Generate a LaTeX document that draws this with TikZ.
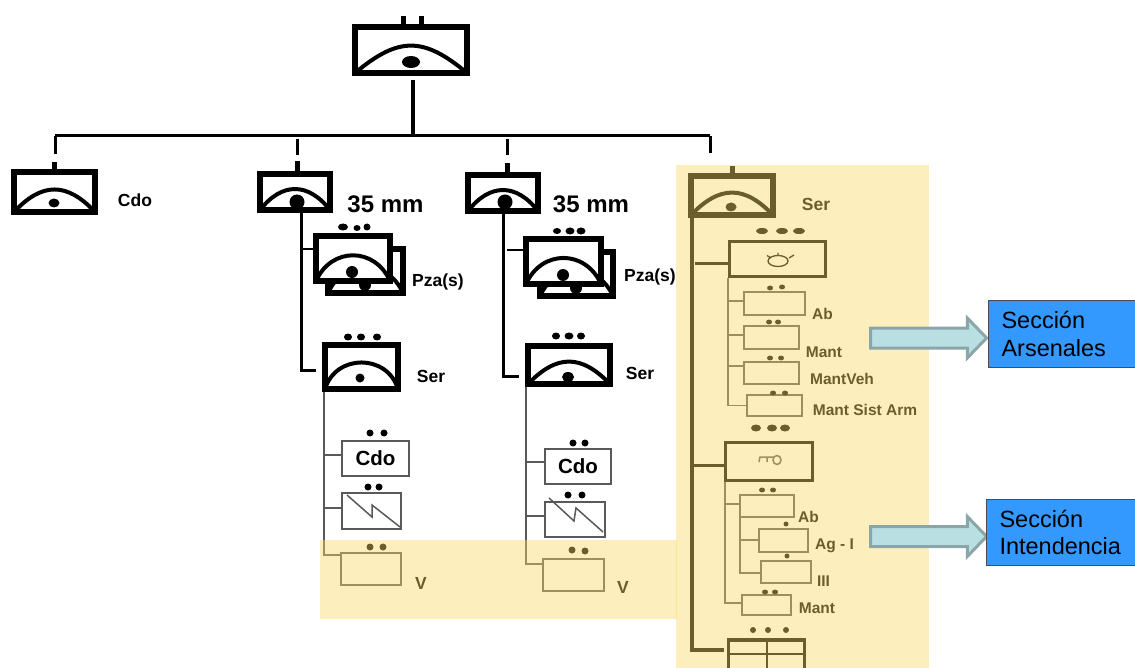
\documentclass[tikz,border=0pt]{standalone}
\usepackage{fontspec}
\setmainfont{Liberation Sans}
\usetikzlibrary{shapes.arrows}
\definecolor{crema}{rgb}{0.98,0.85,0.40}
\definecolor{azulsec}{HTML}{3399FF}
\definecolor{aguaflecha}{HTML}{B9DFE3}
\definecolor{bordeflecha}{HTML}{8AA6A8}
\tikzset{unidad/.style={rectangle, draw=black, fill=white, line width=6, inner sep=0, outer sep=0,
    path picture={\draw[line width=4] (path picture bounding box.south west) to[out=#1, in={180-#1}, looseness=1.3] (path picture bounding box.south east);}}}
\tikzstyle{caja} = [rectangle, draw=black!65, fill=white, line width=1.5, inner sep=0, outer sep=0]
\tikzstyle{cajagrande} = [rectangle, draw=black, fill=white, line width=3.5, inner sep=0, outer sep=0]
\tikzstyle{rotulo} = [inner sep=0, font=\fontsize{17.5}{20}\selectfont\bfseries]
\tikzstyle{rotulochico} = [inner sep=0, font=\fontsize{15.5}{18}\selectfont\bfseries]
\tikzstyle{calibre} = [inner sep=0, font=\fontsize{24}{26}\selectfont\bfseries]
\tikzstyle{seccion} = [rectangle, draw=black!70, fill=azulsec, line width=1, align=left, text width=125, inner xsep=13, inner ysep=0, minimum height=66, font=\fontsize{23.5}{27.5}\selectfont]
\tikzstyle{flecha} = [single arrow, draw=bordeflecha, fill=aguaflecha, line width=3, inner xsep=0, inner ysep=8.5, minimum height=116, minimum width=37, single arrow head extend=10, single arrow tip angle=92]
\tikzstyle{linea} = [line width=3]
\tikzstyle{espiga} = [line width=5]
\tikzstyle{fino} = [line width=1.5, draw=black!65]

\begin{document}
\begin{tikzpicture}[x=1pt, y=-1pt]
    \useasboundingbox (0,0) rectangle (1135,668);
    \clip (0,0) rectangle (1135,668);

    % Unidades
    \node (raiz) [unidad=40, minimum width=112, minimum height=46] at (411,50) {};
    \node (cdo) [unidad=47, minimum width=81, minimum height=40] at (54.5,192) {};
    \node (cia1) [unidad=52, minimum width=70, minimum height=36] at (295,192) {};
    \node (cia2) [unidad=52, minimum width=70, minimum height=36] at (503,193) {};
    \node (ser1) [unidad=73, minimum width=73, minimum height=44] at (361.5,367) {};
    \node (ser2) [unidad=46, minimum width=82, minimum height=38] at (569,365) {};
    \node (serC) [unidad=46, minimum width=82, minimum height=39] at (732,195.5) {};

    % Piezas
    \node (pzaB1) [unidad=66, minimum width=75, minimum height=44] at (365.5,271) {};
    \fill (365,285) circle (6);
    \node (pza1) [unidad=66, minimum width=74, minimum height=45] at (353,258.5) {};
    \node (pzaB2) [unidad=66, minimum width=73, minimum height=44] at (576.5,274) {};
    \fill (576,288) circle (6);
    \node (pza2) [unidad=66, minimum width=75, minimum height=45] at (563.5,261.5) {};

    % Cajas de las dos columnas
    \node (cdoA) [caja, minimum width=67, minimum height=35, font=\fontsize{20.5}{24}\selectfont\bfseries] at (375.5,458.5) {Cdo};
    \node (zigA) [caja, minimum width=59, minimum height=36] at (371.5,511) {};
    \node (vA) [caja, minimum width=60, minimum height=32] at (371,569) {};
    \node (cdoB) [caja, minimum width=66, minimum height=35, font=\fontsize{20.5}{24}\selectfont\bfseries] at (578,466.5) {Cdo};
    \node (zigB) [caja, minimum width=60, minimum height=35] at (575,519.5) {};
    \node (vB) [caja, minimum width=61, minimum height=32] at (573.5,575) {};

    % Cajas de servicios
    \node (boxA) [cajagrande, minimum width=96, minimum height=35] at (777.5,259) {};
    \node (abA) [caja, minimum width=61, minimum height=23] at (774.5,303.5) {};
    \node (mantA) [caja, minimum width=55, minimum height=23] at (771.5,337.5) {};
    \node (vehA) [caja, minimum width=55, minimum height=22] at (771.5,373) {};
    \node (sistA) [caja, minimum width=55, minimum height=21] at (774.5,405.5) {};
    \node (boxB) [cajagrande, minimum width=87, minimum height=38] at (769,461.5) {};
    \node (abB) [caja, minimum width=54, minimum height=22] at (767,506) {};
    \node (agB) [caja, minimum width=49, minimum height=23] at (783.5,540.5) {};
    \node (iiiB) [caja, minimum width=50, minimum height=22] at (786,572) {};
    \node (mantB) [caja, minimum width=49, minimum height=20] at (766.5,605) {};
    \node (boxC) [cajagrande, minimum width=76, minimum height=40] at (766.5,660) {};

    % Puntos de las unidades
    \fill (411,62) ellipse (9 and 6);
    \fill (54,203) ellipse (5.5 and 4.5);
    \fill (297,202) circle (7.5);
    \fill (505,202) circle (7.5);
    \fill (352,272) circle (6);
    \fill (563,275) circle (6);
    \fill (360,378) circle (4.5);
    \fill (568,377) ellipse (6 and 5);
    \fill (731,207) ellipse (5.5 and 4.5);

    % Puntos sobre las cajas
    \fill (343,227) ellipse (5 and 3.5) (357,228) ellipse (3.5 and 3) (367,227) ellipse (3.5 and 3.5);
    \fill (557,231) ellipse (4 and 3) (570,231) ellipse (4.5 and 3.5) (581,231) ellipse (4.5 and 3.5);
    \fill (348,337) ellipse (4 and 3.5) (361,337) ellipse (4 and 3.5) (377,337) ellipse (4 and 3.5);
    \fill (556,336) ellipse (4 and 3.5) (569,336) ellipse (4.5 and 3.5) (581,336) ellipse (4 and 3.5);
    \fill (370,433) circle (3.5) (384,433) circle (3.5);
    \fill (368,487) circle (3.5) (379,487) circle (3.5);
    \fill (370,547) circle (3.5) (383,547) circle (3.5);
    \fill (573,443) circle (3.5) (585,443) circle (3.5);
    \fill (568,495) circle (3.5) (582,495) circle (3.5);
    \fill (572,550) circle (3.5) (585,551) circle (3.5);
    \fill (762,231) ellipse (6 and 3) (782,231) ellipse (6 and 3) (799,231) ellipse (6 and 3);
    \fill (770,288) ellipse (3 and 2.5) (782,287) ellipse (3 and 2.5);
    \fill (769,322) ellipse (3 and 2.5) (778,322) ellipse (3 and 2.5);
    \fill (770,358) ellipse (3 and 2.5) (781,358) ellipse (3 and 2.5);
    \fill (773,393) ellipse (3 and 2.5) (785,393) ellipse (3 and 2.5);
    \fill (756,428) ellipse (5 and 3.5) (772,428) ellipse (5 and 3.5) (785,428) ellipse (5 and 3.5);
    \fill (762,490) ellipse (3 and 2.5) (773,490) ellipse (3 and 2.5);
    \fill (786,524) circle (2.5);
    \fill (787,556) circle (2.5);
    \fill (765,592) ellipse (3 and 2.5) (775,592) ellipse (3 and 2.5);
    \fill (753,630) circle (3) (768,630) circle (3) (786,630) circle (3);

    % Signos dentro de las cajas
    \draw [fino] (347,495) -- (372,517) -- (372,505) -- (400,527);
    \draw [fino] (549,498) -- (574,521) -- (576,508) -- (603,532);
    \draw [line width=1.3] (778,261) ellipse (10 and 5.5);
    \draw [line width=1.3] (767,255.5) -- (771,258) (778,253) -- (778,256) (794,255) -- (789,258);
    \draw [fino] (759,462) -- (760,457) -- (773,457) (767,457) -- (767,462);
    \draw [fino] (777,460) ellipse (4 and 4.5);
    \draw [line width=2] (boxC.north) -- (boxC.south);
    \draw [line width=2] (boxC.west |- 0,654) -- (boxC.east |- 0,654);

    % Rotulos
    \node (tCdo) [rotulo] at (135,200) {Cdo};
    \node (t35a) [calibre] at (385.5,204) {35 mm};
    \node (t35b) [calibre] at (591,204) {35 mm};
    \node (tPza1) [rotulo] at (438,282) {Pza(s)};
    \node (tPza2) [rotulo] at (650,277) {Pza(s)};
    \node (tSer1) [rotulo] at (431,376) {Ser};
    \node (tSer2) [rotulo] at (640,373) {Ser};
    \node (tV1) [rotulo] at (421,583) {V};
    \node (tV2) [rotulo] at (623,587) {V};
    \node (tSerC) [rotulo] at (816,204) {Ser};
    \node (tAbA) [rotulochico] at (822.5,314) {Ab};
    \node (tMantA) [rotulochico] at (824,352) {Mant};
    \node (tVeh) [rotulochico] at (842,379) {MantVeh};
    \node (tSist) [rotulochico] at (865,410) {Mant Sist Arm};
    \node (tAbB) [rotulochico] at (808.5,517) {Ab};
    \node (tAg) [rotulochico] at (834.5,546) {Ag - I};
    \node (tIII) [rotulochico] at (823.5,581) {III};
    \node (tMantB) [rotulochico] at (817,608) {Mant};

    % Conexiones
    \coordinate (bus) at (413,136);
    \coordinate (busL) at (55,136);
    \coordinate (busR) at (710,136);
    \coordinate (r1) at (324,392);
    \coordinate (r2) at (526,387);
    \coordinate (ra) at (728,278);
    \coordinate (rb) at (725,482);
    \coordinate (rc) at (740,517);
    \coordinate (t1) at (301,370);
    \coordinate (t2) at (503,376);
    \coordinate (tc) at (692,650);

    \draw [linea, line width=4, shorten <=7] (raiz.south -| bus) -- (bus);
    \draw [linea] (busL) -- (busR);
    \draw [linea] (busL) -- (busL |- cdo.north) [shorten >=18];
    \draw [linea] (busR) -- (busR |- 0,153);
    \draw [linea, shorten <=3] (cia1.north |- bus) ++(2,0) -- ++(0,19);
    \draw [linea, shorten <=3] (cia2.north |- bus) ++(4,0) -- ++(0,19);
    \draw [espiga] (raiz.north) ++(-8,0) -- ++(0,-10.5);
    \draw [espiga] (raiz.north) ++(10,0) -- ++(0,-10.5);
    \draw [espiga] (cdo.north) -- ++(0,-10);
    \draw [espiga] (cia1.north) ++(2,0) -- ++(0,-13);
    \draw [espiga] (cia2.north) ++(4,0) -- ++(0,-12);
    \draw [espiga] (serC.north) -- ++(0,-10);

    \draw [linea] (cia1.south -| t1) -- (t1) -- (ser1.west |- t1) [shorten >=9];
    \draw [linea] (cia2.south -| t2) -- (t2) -- (ser2.west |- t2) [shorten >=9];
    \draw [line width=2] (t1 |- 0,249) -- (pza1.west |- 0,249);
    \draw [line width=2] (507,250) -- (pza2.west |- 0,250) [shorten >=3];

    \draw [fino] (r1) -- (r1 |- 0,555) -- (vA.west |- 0,555);
    \draw [fino] (r1 |- 0,455) -- (cdoA.west |- 0,455);
    \draw [fino] (r1 |- 0,508) -- (zigA.west |- 0,508);
    \draw [fino] (r2) -- (r2 |- 0,564) -- (vB.west |- 0,564);
    \draw [fino] (r2 |- 0,462) -- (cdoB.west |- 0,462);
    \draw [fino] (r2 |- 0,516) -- (zigB.west |- 0,516);

    \draw [linea, line width=3.5] (serC.south -| tc) -- (tc) -- (boxC.west |- tc) [shorten >=5];
    \draw [linea, line width=3] (695,264) -- (boxA.west |- 0,264);
    \draw [linea, line width=3] (tc |- 0,465) -- (boxB.west |- 0,465);

    \draw [fino] (ra) -- (ra |- sistA.west) -- (sistA.west);
    \draw [fino] (ra |- 0,301) -- (abA.west |- 0,301);
    \draw [fino] (ra |- 0,335) -- (mantA.west |- 0,335);
    \draw [fino] (ra |- 0,366) -- (vehA.west |- 0,366);
    \draw [fino] (rb) -- (rb |- 0,603) -- (mantB.west |- 0,603);
    \draw [fino] (rb |- 0,504) -- (abB.west |- 0,504);
    \draw [fino] (rc) -- (rc |- 0,573) -- (iiiB.west |- 0,573);
    \draw [fino] (rc |- 0,540) -- (agB.west |- 0,540);

    % Velos
    \fill [crema, fill opacity=.43] (320,540) rectangle (677,619);
    \fill [crema, fill opacity=.43] (676,165) rectangle (929,668);

    % Secciones
    \node (flechaA) [flecha] at (923.75,338) {};
    \node (flechaB) [flecha] at (923.75,536.5) {};
    \node (secA) [seccion] at (1064,334) {Sección\\Arsenales};
    \node (secB) [seccion] at (1062,532.5) {Sección\\Intendencia};
\end{tikzpicture}
\end{document}
